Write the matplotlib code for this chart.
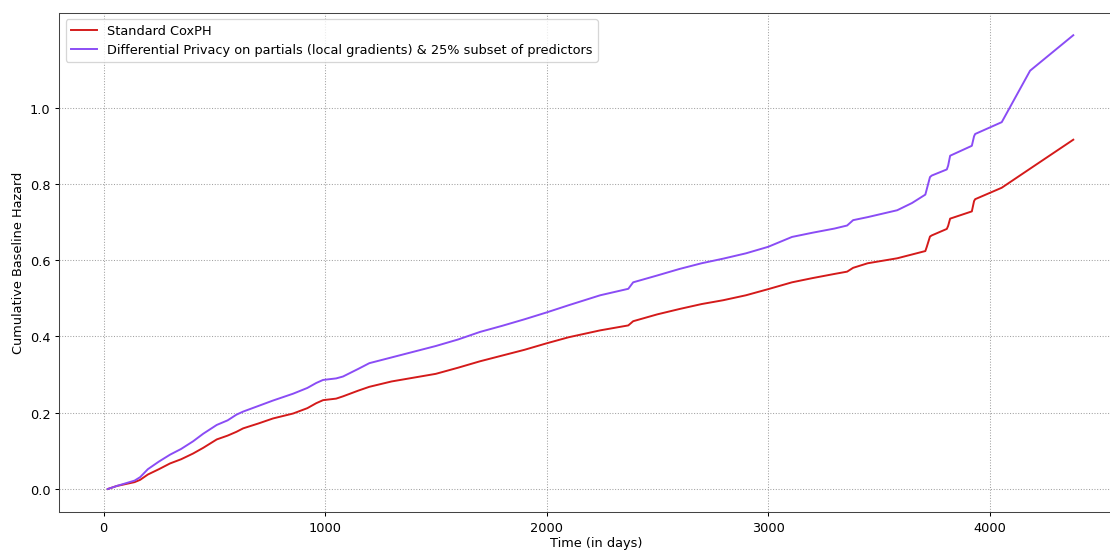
import matplotlib
matplotlib.use("Agg")
import matplotlib.pyplot as plt

# Baseline hazard estimates at shared event times (days)
time_days = [19, 60, 100, 140, 165, 200, 250, 300, 350, 404, 450, 511, 560, 600,
             630, 700, 765, 856, 920, 960, 991, 1050, 1081, 1150, 1200, 1300, 1400,
             1500, 1600, 1700, 1800, 1900, 2000, 2100, 2242, 2369, 2391, 2500, 2600,
             2700, 2797, 2900, 3000, 3108, 3200, 3300, 3357, 3384, 3450, 3583, 3650,
             3710, 3716, 3731, 3739, 3807, 3813, 3822, 3920, 3930, 3935, 4055, 4183,
             4378]

hazard_coxph = [0.0, 0.008, 0.013, 0.018, 0.024, 0.038, 0.052, 0.067, 0.078, 0.093,
                0.108, 0.130, 0.140, 0.150, 0.159, 0.172, 0.185, 0.198, 0.212, 0.225,
                0.233, 0.237, 0.243, 0.258, 0.268, 0.282, 0.292, 0.302, 0.318, 0.335,
                0.350, 0.365, 0.382, 0.398, 0.416, 0.429, 0.440, 0.458, 0.472, 0.485,
                0.495, 0.508, 0.524, 0.542, 0.553, 0.564, 0.570, 0.580, 0.592, 0.605,
                0.615, 0.624, 0.634, 0.662, 0.665, 0.682, 0.690, 0.709, 0.728, 0.755,
                0.760, 0.790, 0.840, 0.916]

hazard_dp = [0.0, 0.008, 0.015, 0.022, 0.031, 0.052, 0.072, 0.090, 0.105, 0.125,
             0.145, 0.168, 0.180, 0.195, 0.203, 0.218, 0.232, 0.250, 0.265, 0.278,
             0.286, 0.290, 0.295, 0.315, 0.330, 0.345, 0.360, 0.375, 0.392, 0.412,
             0.428, 0.445, 0.463, 0.482, 0.508, 0.525, 0.542, 0.560, 0.577, 0.592,
             0.604, 0.618, 0.635, 0.661, 0.672, 0.683, 0.691, 0.705, 0.713, 0.731,
             0.750, 0.772, 0.785, 0.818, 0.822, 0.838, 0.848, 0.874, 0.900, 0.925,
             0.931, 0.962, 1.097, 1.190]

labels = ["Standard CoxPH",
          "Differential Privacy on partials (local gradients) & 25% subset of predictors"]

fig = plt.figure(figsize=(12, 5.978), dpi=92.5)
ax = fig.add_axes([0.0536, 0.0729, 0.9676, 0.9027])

ax.plot(time_days, hazard_coxph, color="#d41a1a", linewidth=1.5, label=labels[0])
ax.plot(time_days, hazard_dp, color="#8a4cf5", linewidth=1.5, label=labels[1])

ax.set_xlim(-199, 4650)
ax.set_xlabel("Time (in days)", labelpad=2)
ax.set_ylabel("Cumulative Baseline Hazard")
ax.set_xticks([0, 1000, 2000, 3000, 4000])
ax.set_yticks([0.0, 0.2, 0.4, 0.6, 0.8, 1.0])
ax.grid(True, linestyle=":", color="#a0a0a0", linewidth=0.8)
for side in ["left", "bottom", "top"]:
    ax.spines[side].set_color("#444444")
ax.spines["right"].set_visible(False)
ax.legend(loc="upper left")

fig.savefig("out.png", dpi=92.5)
